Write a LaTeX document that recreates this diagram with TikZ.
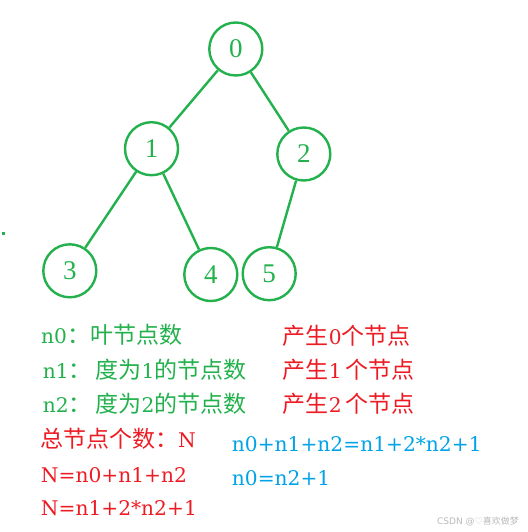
\documentclass[tikz,border=0pt]{standalone}
\usepackage{fontspec}
\setmainfont{DejaVu Serif}
\newfontfamily\cjk{Noto Sans CJK SC}
\newfontfamily\digitfont{Liberation Serif}
\newfontfamily\markfont{DejaVu Sans}
\usetikzlibrary{positioning}
\definecolor{treegreen}{RGB}{34,177,76}
\definecolor{notered}{RGB}{237,28,36}
\definecolor{noteblue}{RGB}{0,162,232}
\definecolor{markgray}{RGB}{185,185,185}
\newcommand{\zh}[1]{{\cjk\fontsize{23}{24}\selectfont #1}}

\begin{document}
\begin{tikzpicture}[x=1pt, y=-1pt,
    vertex/.style={circle, draw=treegreen, line width=2.4pt, minimum size=53pt, inner sep=0pt,
                   text=treegreen, font=\digitfont\fontsize{27}{27}\selectfont},
    link/.style={draw=treegreen, line width=2.4pt},
    note/.style={anchor=base west, inner sep=0pt, font=\fontsize{20.2}{24}\selectfont}]
    \useasboundingbox (0,0) rectangle (527,532);

    % tree
    \node[vertex] (v0) at (235.8,49) {0};
    \node[vertex] (v1) at (151.5,148.7) {1};
    \node[vertex] (v2) at (303.8,154) {2};
    \node[vertex] (v3) at (69.8,270.8) {3};
    \node[vertex] (v4) at (210.8,274.5) {4};
    \node[vertex] (v5) at (269.2,273.7) {5};

    \draw[link] (v0) -- (v1);
    \draw[link] (v0) -- (v2);
    \draw[link] (v1) -- (v3);
    \draw[link] (v1) -- (v4);
    \draw[link] (v2) -- (v5);

    \fill[treegreen] (2,231.5) rectangle (5,234.5);

    % notes, left column
    \node[note, text=treegreen] (leaf) at (41,343) {n0\zh{：叶节点数}};
    \node[note, text=treegreen] (deg1) at (42.7,378) {n1\zh{：\,度为}1\zh{的节点数}};
    \node[note, text=treegreen] (deg2) at (42.7,412) {n2\zh{：\,度为}2\zh{的节点数}};
    \node[note, text=notered] (total) at (40,447) {\zh{总节点个数：}N};
    \node[note, text=notered] (sumA) at (40.7,482) {N=n0+n1+n2};
    \node[note, text=notered] (sumB) at (40.7,515) {N=n1+2*n2+1};

    % notes, right column
    \node[note, text=notered] (gen0) at (282.7,344) {\zh{产生}0\zh{个节点}};
    \node[note, text=notered] (gen1) at (282.7,378) {\zh{产生}1\,\zh{个节点}};
    \node[note, text=notered] (gen2) at (282.7,412) {\zh{产生}2\,\zh{个节点}};
    \node[note, text=noteblue] (eqA) at (231.7,451) {n0+n1+n2=n1+2*n2+1};
    \node[note, text=noteblue] (eqB) at (231.7,485) {n0=n2+1};

    \node[anchor=base west, inner sep=0pt, text=markgray, font=\markfont\fontsize{9}{9}\selectfont]
        (mark) at (437,524) {CSDN @♡{\cjk 喜欢做梦}};
\end{tikzpicture}
\end{document}
